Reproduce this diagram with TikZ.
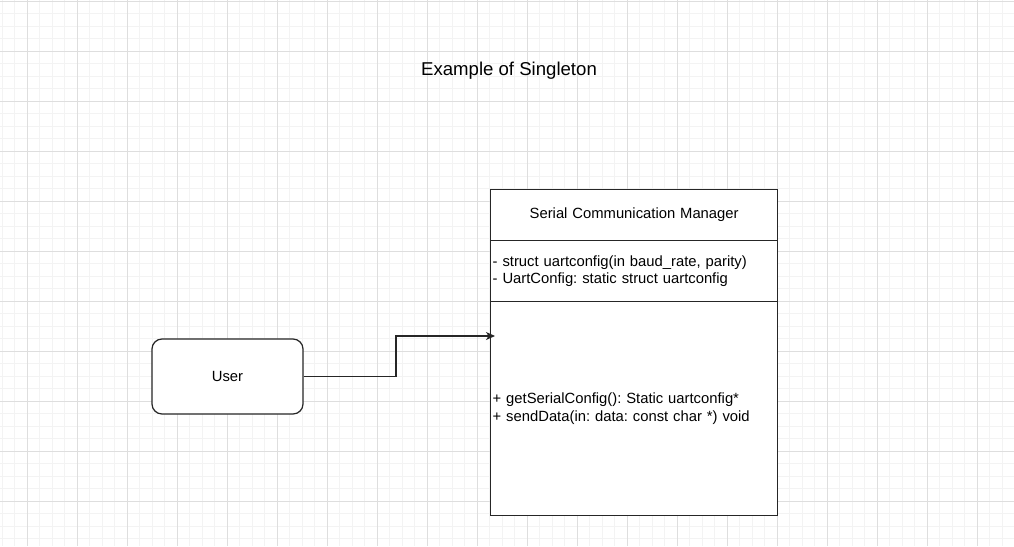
\documentclass[tikz,border=0pt]{standalone}
\usepackage{fontspec}
\setmainfont{Liberation Sans}
\usetikzlibrary{arrows.meta}
\frenchspacing

\definecolor{minorgrid}{HTML}{F3F3F3}
\definecolor{majorgrid}{HTML}{DEDEDE}

\tikzset{
	umlbox/.style = {draw = black!85, line width = 1.3pt, fill = white, minimum width = 287pt, anchor = north west, inner xsep = 2pt, text width = 283pt},
	userbox/.style = {draw = black!85, line width = 1.2pt, fill = white, rounded corners = 10pt, minimum width = 151pt, minimum height = 75pt}
}

\begin{document}
\begin{tikzpicture}[x = 1pt, y = -1pt, font = \fontsize{14.8}{17.5}\selectfont]
	\useasboundingbox (0, 0) rectangle (1014, 546);
	\fill[white] (0, 0) rectangle (1014, 546);
	
	% background grid
	\foreach \x in {2, 14.5, ..., 1014}
	\draw[minorgrid, line width = 1pt] (\x, 0) -- (\x, 546);
	\foreach \y in {13.5, 26, ..., 546}
	\draw[minorgrid, line width = 1pt] (0, \y) -- (1014, \y);
	\foreach \x in {27, 77, ..., 1014}
	\draw[majorgrid, line width = 1pt] (\x, 0) -- (\x, 546);
	\foreach \y in {1, 51, ..., 546}
	\draw[majorgrid, line width = 1pt] (0, \y) -- (1014, \y);
	
	\node[font = \fontsize{18.6}{22}\selectfont] (title) at (509, 71) {Example of Singleton};
	
	% class
	\node[umlbox, minimum height = 51pt, align = center] (head) at (490, 189) {Serial Communication Manager};
	\node[umlbox, minimum height = 61pt, align = left] (attrs) at (490, 240) {- struct uartconfig(in baud\_rate, parity)\\- UartConfig: static struct uartconfig};
	\node[umlbox, minimum height = 214pt, align = left] (methods) at (490, 301) {+ getSerialConfig(): Static uartconfig*\\+ sendData(in: data: const char *) void};
	
	\node[userbox] (user) at (227.5, 376.5) {User};
	
	\coordinate (bend) at (396, 336);
	\coordinate (tip) at (495, 336);
	\draw[line width = 1.2pt, black!85, -{Stealth[length = 9pt, width = 8pt, inset = 2.5pt]}] (user.east) -| (bend) -- (tip);
\end{tikzpicture}
\end{document}
